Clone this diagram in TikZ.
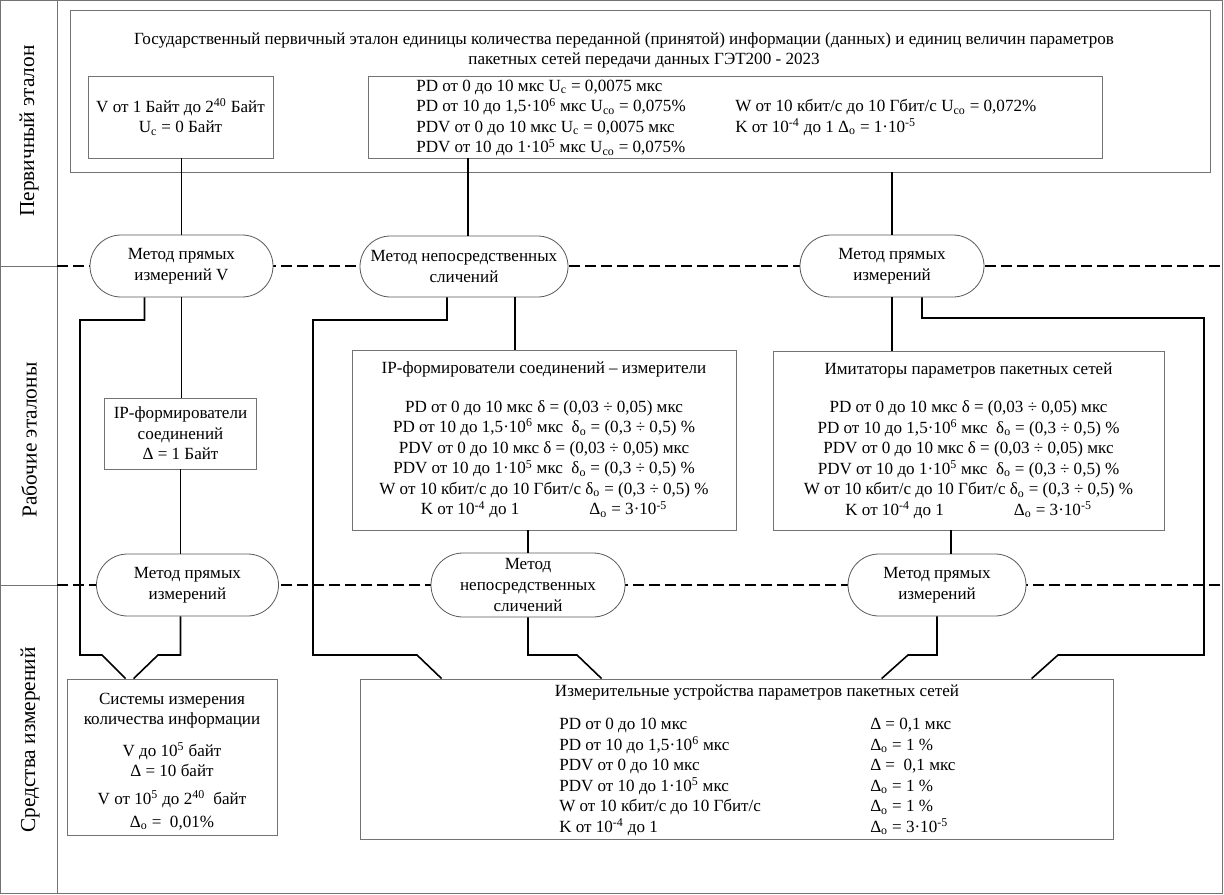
\documentclass[tikz,border=0pt]{standalone}
\usepackage{fontspec}
\setmainfont{Liberation Serif}
\usetikzlibrary{shapes.misc,calc}
\newlength\pxu
\setlength\pxu{0.75pt}
\begin{document}
\begin{tikzpicture}[x=0.75pt,y=-0.75pt,
  every node/.style={font=\fontsize{12.8}{15.4}\selectfont, inner sep=0pt},
  frameline/.style={draw=black!55, line width=0.6pt},
  box/.style={draw=black!55, line width=0.6pt, fill=white, rectangle, align=center},
  oval/.style={draw=black!65, line width=0.6pt, fill=white, rounded rectangle, align=center},
  conn/.style={line width=1.2pt, black},
  sepline/.style={line width=1.5pt, black, dash pattern=on 8pt off 4pt},
  lbl/.style={rotate=90, font=\fontsize{16}{19}\selectfont},
]
\useasboundingbox (0,0) rectangle (1224,895);
% frame
\draw[frameline] (0.5,0.5) rectangle (1222,893);
\draw[frameline] (57,0.5) -- (57,893);
\draw[frameline] (0.5,266) -- (57,266);
\draw[frameline] (0.5,585) -- (57,585);
\node[lbl] (l1) at (29,131) {Первичный эталон};
\node[lbl] (l2) at (29,440) {Рабочие эталоны};
\node[lbl] (l3) at (30,740) {Средства измерений};
% separators
\draw[sepline] (57,266) -- (1222,266);
\draw[sepline] (57,585) -- (1222,585);
% top
\node[box, minimum width=1140\pxu, minimum height=162\pxu] (T) at (640,91) {};
\node (title1) at (624,40) {Государственный первичный эталон единицы количества переданной (принятой) информации (данных) и единиц величин параметров};
\node (title2) at (644,60) {пакетных сетей передачи данных ГЭТ200 - 2023};
\node[box, minimum width=185\pxu, minimum height=82\pxu] (A) at (180.5,117) {V от 1 Байт до 2\textsuperscript{40} Байт\\U\textsubscript{с} = 0 Байт};
\node[box, minimum width=734\pxu, minimum height=82\pxu] (B) at (735,117) {};
\node[anchor=west] (Btext) at (416,118) {\begin{tabular}{@{}p{319\pxu}@{}l@{}}
PD от 0 до 10 мкс U\textsubscript{с} = 0,0075 мкс & \\
PD от 10 до 1,5·10\textsuperscript{6} мкс U\textsubscript{со} = 0,075\% & W от 10 кбит/с до 10 Гбит/с U\textsubscript{со} = 0,072\% \\
PDV от 0 до 10 мкс U\textsubscript{с} = 0,0075 мкс & K от 10\textsuperscript{-4} до 1 Δ\textsubscript{о} = 1·10\textsuperscript{-5}\\
PDV от 10 до 1·10\textsuperscript{5} мкс U\textsubscript{со} = 0,075\% &
\end{tabular}};
% ovals row 1
\node[oval, minimum width=183\pxu, minimum height=62\pxu] (O1) at (181.5,266) {Метод прямых\\измерений V};
\node[oval, minimum width=208\pxu, minimum height=61\pxu] (O2) at (464,266.5) {Метод непосредственных\\сличений};
\node[oval, minimum width=184\pxu, minimum height=62\pxu] (O3) at (892,266) {Метод прямых\\измерений};
% working standards
\node[box, minimum width=152\pxu, minimum height=71\pxu] (IPL) at (180.5,433.5) {IP-формирователи\\соединений\\Δ = 1 Байт};
\node[box, minimum width=384\pxu, minimum height=180\pxu] (IPM) at (544,440) {IP-формирователи соединений – измерители\\[18\pxu]
PD от 0 до 10 мкс δ = (0,03 ÷ 0,05) мкс\\
PD от 10 до 1,5·10\textsuperscript{6} мкс\ \ δ\textsubscript{о} = (0,3 ÷ 0,5) \%\\
PDV от 0 до 10 мкс δ = (0,03 ÷ 0,05) мкс\\
PDV от 10 до 1·10\textsuperscript{5} мкс\ \ δ\textsubscript{о} = (0,3 ÷ 0,5) \%\\
W от 10 кбит/с до 10 Гбит/с δ\textsubscript{о} = (0,3 ÷ 0,5) \%\\
K от 10\textsuperscript{-4} до 1\hspace{70\pxu}Δ\textsubscript{о} = 3·10\textsuperscript{-5}};
\node[box, minimum width=391\pxu, minimum height=179\pxu] (IMI) at (968.5,440.5) {Имитаторы параметров пакетных сетей\\[18\pxu]
PD от 0 до 10 мкс δ = (0,03 ÷ 0,05) мкс\\
PD от 10 до 1,5·10\textsuperscript{6} мкс\ \ δ\textsubscript{о} = (0,3 ÷ 0,5) \%\\
PDV от 0 до 10 мкс δ = (0,03 ÷ 0,05) мкс\\
PDV от 10 до 1·10\textsuperscript{5} мкс\ \ δ\textsubscript{о} = (0,3 ÷ 0,5) \%\\
W от 10 кбит/с до 10 Гбит/с δ\textsubscript{о} = (0,3 ÷ 0,5) \%\\
K от 10\textsuperscript{-4} до 1\hspace{70\pxu}Δ\textsubscript{о} = 3·10\textsuperscript{-5}};
% ovals row 2
\node[oval, minimum width=182\pxu, minimum height=62\pxu] (P1) at (187.5,585) {Метод прямых\\измерений};
\node[oval, minimum width=194\pxu, minimum height=64\pxu] (P2) at (528,585) {Метод\\непосредственных\\сличений};
\node[oval, minimum width=178\pxu, minimum height=62\pxu] (P3) at (937,585) {Метод прямых\\измерений};
% measuring instruments
\node[box, minimum width=210\pxu, minimum height=156\pxu] (BL) at (172,757) {\rule{0pt}{15pt}Системы измерения\\количества информации\\[11\pxu]V до 10\textsuperscript{5} байт\\Δ = 10 байт\\[7\pxu]V от 10\textsuperscript{5} до 2\textsuperscript{40}\ \ байт\\[2\pxu]Δ\textsubscript{о} =\ \ 0,01\%};
\node[box, minimum width=753\pxu, minimum height=160\pxu] (BR) at (736.5,759) {};
\node (BRtitle) at (757,692) {Измерительные устройства параметров пакетных сетей};
\node[anchor=west] (BRtext) at (559,777) {\begin{tabular}{@{}p{311\pxu}@{}l@{}}
PD от 0 до 10 мкс & Δ = 0,1 мкс\\
PD от 10 до 1,5·10\textsuperscript{6} мкс & Δ\textsubscript{о} = 1 \%\\
PDV от 0 до 10 мкс & Δ =\ \ 0,1 мкс\\
PDV от 10 до 1·10\textsuperscript{5} мкс & Δ\textsubscript{о} = 1 \%\\
W от 10 кбит/с до 10 Гбит/с & Δ\textsubscript{о} = 1 \%\\
K от 10\textsuperscript{-4} до 1 & Δ\textsubscript{о} = 3·10\textsuperscript{-5}
\end{tabular}};
% connectors
\draw[conn] (A.south -| O1.north) -- (O1.north);
\draw[conn] ($(B.south -| O2.north)+(4,0)$) -- ($(O2.north)+(4,0)$);
\draw[conn] (T.south -| O3.north) -- (O3.north);
\draw[conn] (O1.south) -- (O1.south |- IPL.north);
\draw[conn] ($(O1.south)+(-37,0)$) |- (80,320) |- (102,655) -- ($(BL.north west)+(59,0)$);
\draw[conn] (IPL.south) -- (IPL.south |- P1.north);
\draw[conn] (IPL.south |- P1.south) |- (158,655) -- ($(BL.north west)+(67,0)$);
\draw[conn] ($(O2.south)+(-17,0)$) |- (313,320) |- (417,655) -- ($(BR.north west)+(82,0)$);
\coordinate (o2r) at ($(O2.south)+(51,0)$);
\draw[conn] (o2r) -- (o2r |- IPM.north);
\draw[conn] (IPM.south -| P2.north) -- (P2.north);
\draw[conn] (P2.south) |- (577,655) -- ($(BR.north west)+(242,0)$);
\draw[conn] (O3.south) -- (O3.south |- IMI.north);
\coordinate (o3r) at ($(O3.south)+(30,0)$);
\draw[conn] (o3r) |- (1204,318) |- (1058,655) -- ($(BR.north west)+(672,0)$);
\coordinate (i3) at ($(IMI.south)+(-17.5,0)$);
\draw[conn] (i3) -- (i3 |- P3.north);
\draw[conn] (P3.south) |- (908,655) -- ($(BR.north west)+(522,0)$);
\end{tikzpicture}
\end{document}
